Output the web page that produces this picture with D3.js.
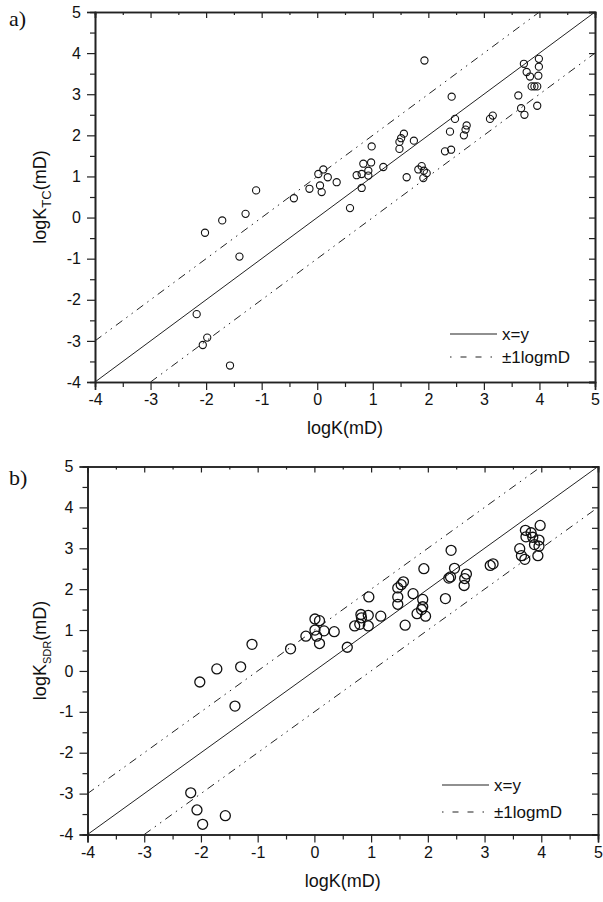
<!DOCTYPE html>
<html>
<head>
<meta charset="utf-8">
<script src="https://cdn.jsdelivr.net/npm/d3@7"></script>
<style>
  body { margin: 0; background: #fff; }
  svg { display: block; }
  text { font-family: "Liberation Sans", Arial, sans-serif; fill: #111; }
</style>
</head>
<body>
<svg id="chart" width="603" height="902"></svg>
<script>
// log permeability, core vs. NMR estimate (panel a: TC, panel b: SDR)
var logK_tc = [
  [-2.17,-2.35],[-2.06,-3.10],[-1.98,-2.92],[-1.57,-3.60],[-2.02,-0.37],[-1.71,-0.07],
  [-1.40,-0.95],[-1.29,0.09],[-1.10,0.66],[-0.42,0.47],[-0.14,0.70],[0.02,1.06],
  [0.11,1.17],[0.05,0.78],[0.08,0.62],[0.19,0.98],[0.35,0.86],[0.59,0.23],
  [0.80,0.72],[0.71,1.03],[0.80,1.06],[0.83,1.31],[0.92,1.14],[0.97,1.34],
  [0.92,1.02],[0.98,1.73],[1.19,1.23],[1.48,1.67],[1.48,1.84],[1.51,1.93],
  [1.56,2.04],[1.74,1.87],[1.61,0.98],[1.82,1.17],[1.88,1.25],[1.92,1.14],
  [1.91,0.96],[1.97,1.08],[1.93,3.82],[2.42,2.94],[2.30,1.61],[2.41,1.65],
  [2.39,2.09],[2.48,2.40],[2.64,2.00],[2.67,2.14],[2.69,2.24],[3.11,2.40],
  [3.16,2.48],[3.62,2.97],[3.67,2.66],[3.73,2.50],[3.72,3.74],[3.77,3.54],
  [3.83,3.43],[3.99,3.86],[3.99,3.67],[3.98,3.45],[3.86,3.19],[3.91,3.19],
  [3.96,3.19],[3.96,2.72]
];
var logK_sdr = [
  [-2.18,-2.98],[-2.07,-3.40],[-1.97,-3.75],[-1.57,-3.54],[-2.02,-0.27],[-1.72,0.05],
  [-1.30,0.10],[-1.40,-0.86],[-1.10,0.65],[-0.42,0.54],[-0.15,0.85],[0.01,1.27],
  [0.09,1.23],[0.01,1.00],[0.17,0.98],[0.04,0.85],[0.09,0.67],[0.35,0.96],
  [0.58,0.58],[0.71,1.10],[0.80,1.14],[0.83,1.30],[0.82,1.38],[0.95,1.36],
  [0.95,1.10],[0.96,1.81],[1.17,1.34],[1.47,1.63],[1.47,1.81],[1.47,2.03],
  [1.53,2.11],[1.57,2.18],[1.74,1.89],[1.91,1.75],[1.91,1.57],[1.89,1.50],
  [1.81,1.40],[1.96,1.34],[1.60,1.12],[1.93,2.50],[2.41,2.95],[2.31,1.77],
  [2.40,2.30],[2.37,2.27],[2.47,2.51],[2.64,2.09],[2.65,2.26],[2.68,2.37],
  [3.10,2.58],[3.15,2.62],[3.62,2.99],[3.65,2.82],[3.71,2.73],[3.72,3.44],
  [3.82,3.38],[3.73,3.28],[3.85,3.27],[3.98,3.56],[3.96,3.20],[3.88,3.09],
  [3.96,3.05],[3.94,2.82]
];
var axisRange = [-4, 5];
var majorTicks = [-4,-3,-2,-1,0,1,2,3,4,5];
var minorTicks = [-3.5,-2.5,-1.5,-0.5,0.5,1.5,2.5,3.5,4.5];
var bandOffset = [1, -1];          // +-1 logmD lines
var legendLabels = ["x=y", "\u00b11logmD"];

var svg = d3.select("#chart");
var dashDot = "8,5,1.5,5,1.5,5";

function drawPanel(cfg) {
  var x = d3.scaleLinear().domain(axisRange).range([cfg.left, cfg.right]);
  var y = d3.scaleLinear().domain(axisRange).range([cfg.bottom, cfg.top]);
  var g = svg.append("g");

  // axes: bottom/left ticks outward, top/right inward
  g.append("g").attr("transform", "translate(0," + cfg.bottom + ")")
    .call(d3.axisBottom(x).tickValues(majorTicks).tickSize(8).tickPadding(4).tickFormat(function(d){ return String(d); }));
  g.append("g").attr("transform", "translate(0," + cfg.bottom + ")")
    .call(d3.axisBottom(x).tickValues(minorTicks).tickSize(5).tickFormat(""));
  g.append("g").attr("transform", "translate(" + cfg.left + ",0)")
    .call(d3.axisLeft(y).tickValues(majorTicks).tickSize(8).tickPadding(6).tickFormat(function(d){ return String(d); }));
  g.append("g").attr("transform", "translate(" + cfg.left + ",0)")
    .call(d3.axisLeft(y).tickValues(minorTicks).tickSize(5).tickFormat(""));
  g.append("g").attr("transform", "translate(0," + cfg.top + ")")
    .call(d3.axisTop(x).tickValues(majorTicks).tickSize(-6).tickFormat(""));
  g.append("g").attr("transform", "translate(0," + cfg.top + ")")
    .call(d3.axisTop(x).tickValues(minorTicks).tickSize(-3).tickFormat(""));
  g.append("g").attr("transform", "translate(" + cfg.right + ",0)")
    .call(d3.axisRight(y).tickValues(majorTicks).tickSize(-6).tickFormat(""));
  g.append("g").attr("transform", "translate(" + cfg.right + ",0)")
    .call(d3.axisRight(y).tickValues(minorTicks).tickSize(-6).tickFormat(""));

  g.selectAll(".domain").attr("stroke", "#222").attr("stroke-width", 1.6);
  g.selectAll(".tick line").attr("stroke", "#222").attr("stroke-width", 1.2);
  g.selectAll(".tick text").style("font-size", "16px").attr("fill", "#111")
    .style("font-family", "'Liberation Sans', Arial, sans-serif");

  // reference lines
  g.append("line")
    .attr("x1", x(axisRange[0])).attr("y1", y(axisRange[0]))
    .attr("x2", x(axisRange[1])).attr("y2", y(axisRange[1]))
    .attr("stroke", "#222").attr("stroke-width", 1);
  bandOffset.forEach(function(o) {
    var x0 = Math.max(axisRange[0], axisRange[0] - o);
    var x1 = Math.min(axisRange[1], axisRange[1] - o);
    g.append("line")
      .attr("x1", x(x0)).attr("y1", y(x0 + o))
      .attr("x2", x(x1)).attr("y2", y(x1 + o))
      .attr("stroke", "#222").attr("stroke-width", 1)
      .attr("stroke-dasharray", dashDot);
  });

  // points
  g.selectAll("circle.pt").data(cfg.data).enter().append("circle")
    .attr("class", "pt")
    .attr("cx", function(d){ return x(d[0]); })
    .attr("cy", function(d){ return y(d[1]); })
    .attr("r", cfg.r)
    .attr("fill", "none").attr("stroke", "#111").attr("stroke-width", cfg.sw);

  // legend
  var lg = g.append("g");
  legendLabels.forEach(function(lbl, i) {
    var ly = cfg.legY + i * cfg.legGap;
    lg.append("line")
      .attr("x1", cfg.legX).attr("x2", cfg.legX + 47)
      .attr("y1", ly).attr("y2", ly)
      .attr("stroke", "#222").attr("stroke-width", 1.2)
      .attr("stroke-dasharray", i === 0 ? null : "1.5,9,6,9,6,9");
    lg.append("text").attr("x", cfg.legX + 52).attr("y", ly + 6)
      .style("font-size", "17px").text(lbl);
  });

  // axis titles
  g.append("text")
    .attr("x", (cfg.left + cfg.right) / 2).attr("y", cfg.bottom + 52)
    .attr("text-anchor", "middle").style("font-size", "18px")
    .text("logK(mD)");
  var yt = g.append("text")
    .attr("transform", "translate(" + cfg.yTitleX + "," + (cfg.top + cfg.bottom) / 2 + ") rotate(-90)")
    .attr("text-anchor", "middle").style("font-size", "18px");
  yt.append("tspan").text("logK");
  yt.append("tspan").attr("dy", 5).style("font-size", cfg.subSize).text(cfg.sub);
  yt.append("tspan").attr("dy", -5).text("(mD)");

  // panel letter
  svg.append("text").attr("x", 9).attr("y", cfg.letterY)
    .style("font-family", "'Liberation Serif', 'Times New Roman', serif")
    .style("font-size", "22px").text(cfg.letter);
}

drawPanel({ data: logK_tc, left: 95, right: 595, top: 12, bottom: 382, r: 3.6, sw: 1.1,
  legX: 450, legY: 334, legGap: 23, yTitleX: 46, sub: "TC", subSize: "13px",
  letter: "a)", letterY: 26 });
drawPanel({ data: logK_sdr, left: 87.5, right: 598, top: 466.5, bottom: 834.5, r: 5, sw: 1.3,
  legX: 442, legY: 785, legGap: 27, yTitleX: 46, sub: "SDR", subSize: "11px",
  letter: "b)", letterY: 485 });
</script>
</body>
</html>
